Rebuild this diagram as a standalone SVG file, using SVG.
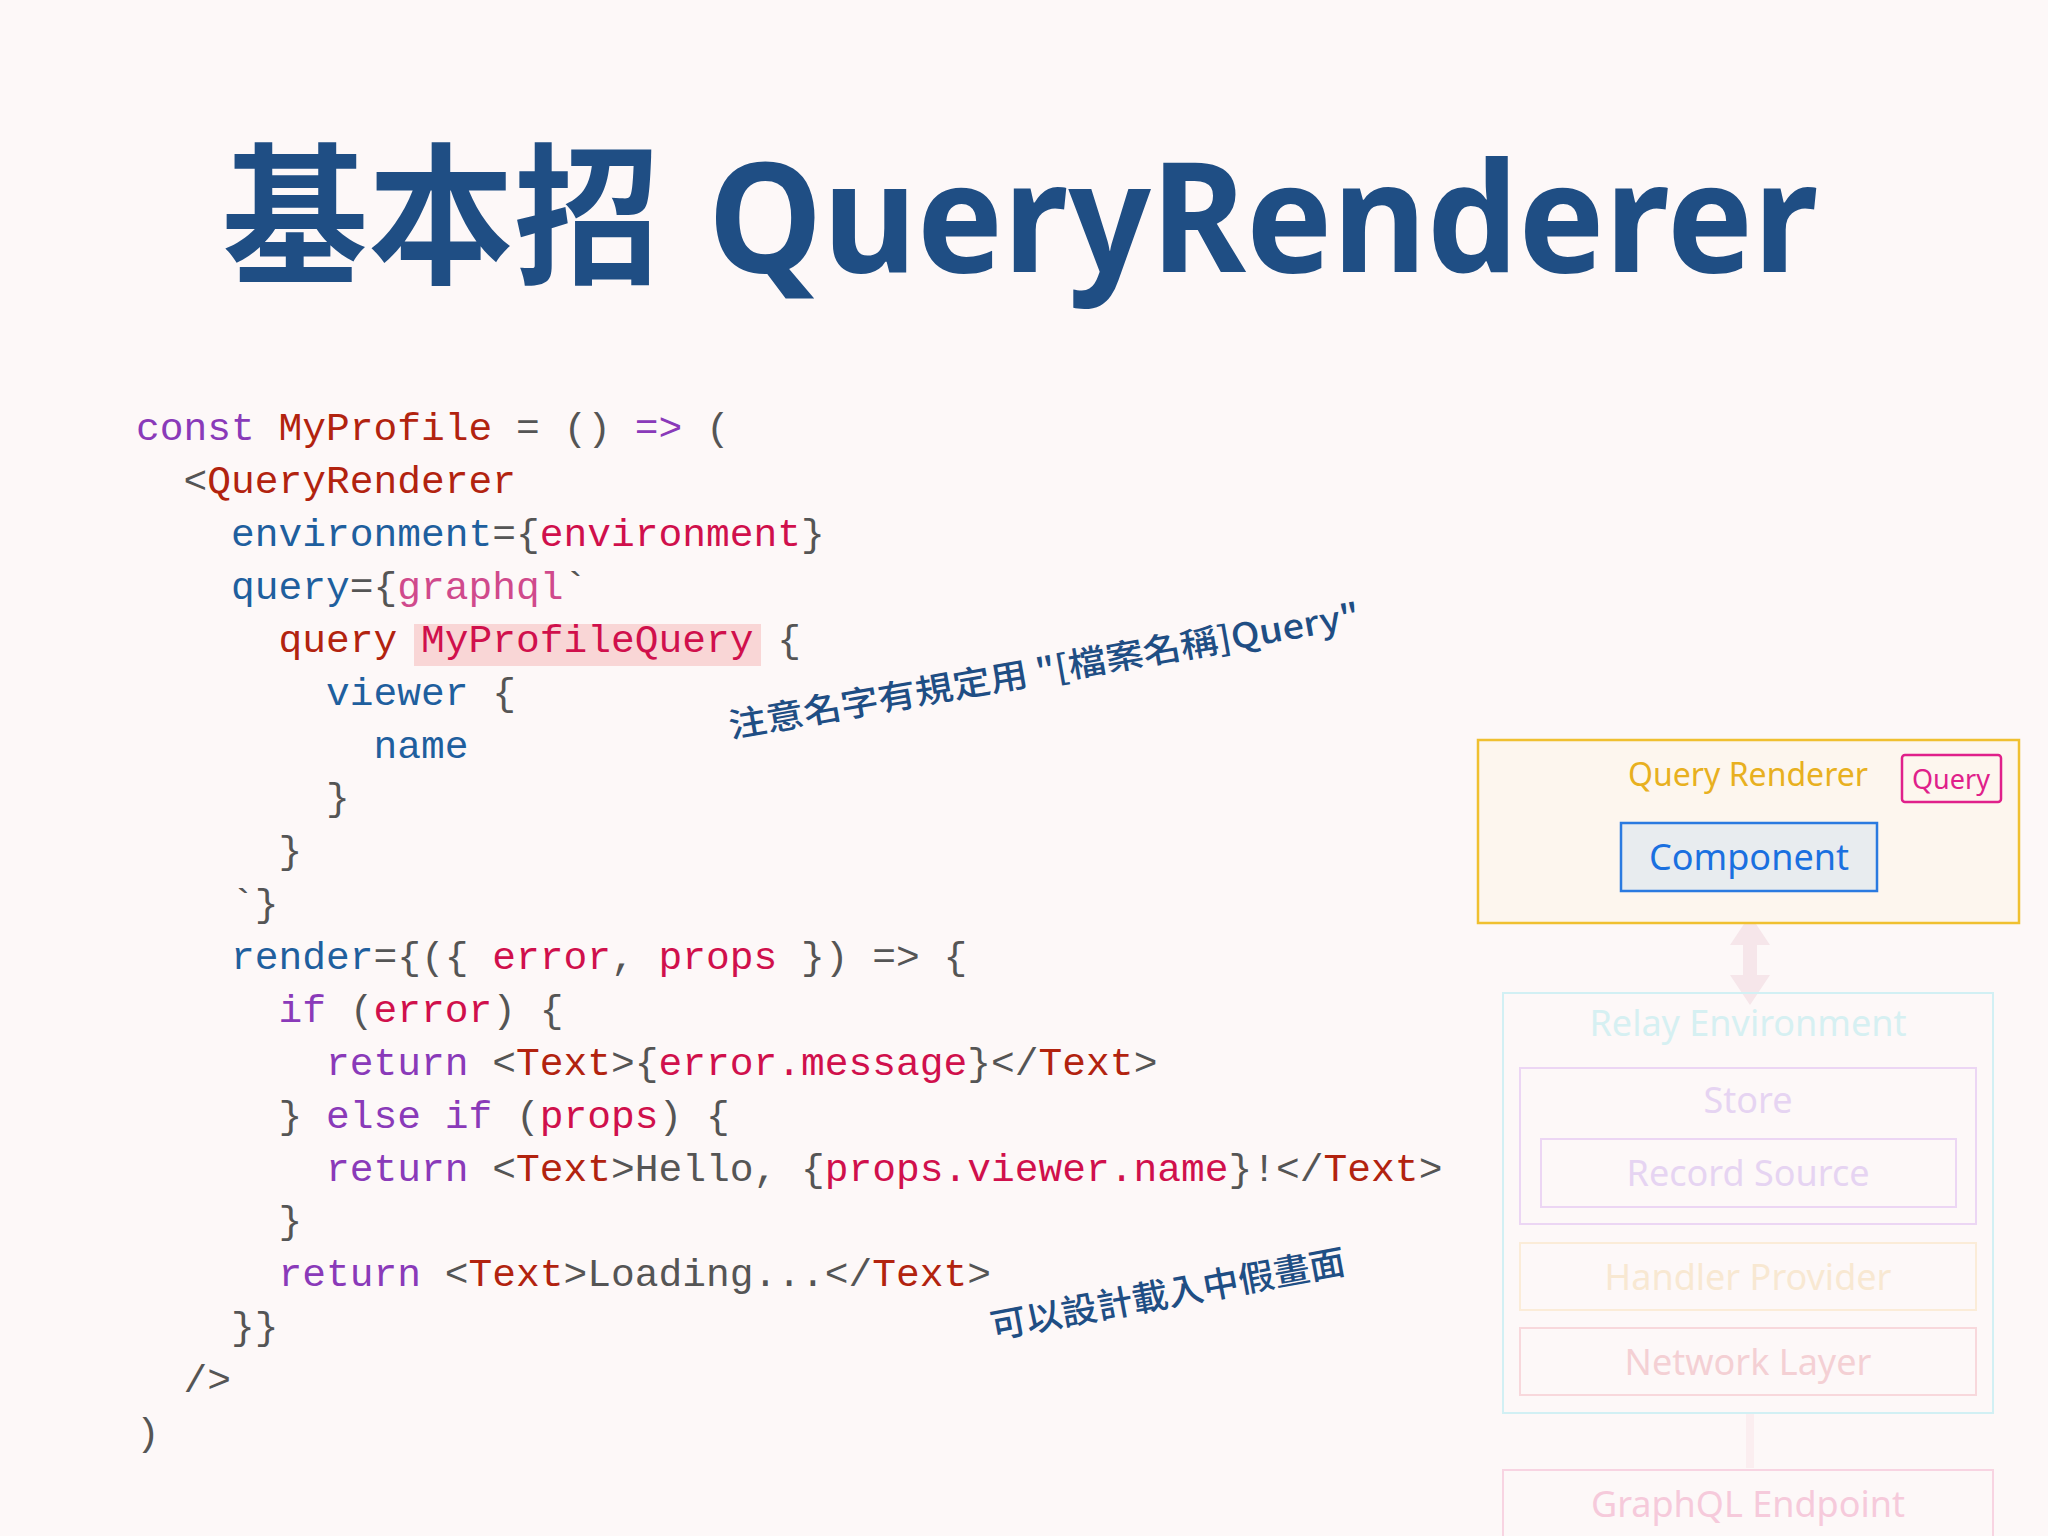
<svg xmlns="http://www.w3.org/2000/svg" width="2048" height="1536" viewBox="0 0 2048 1536">
<style>
.code{font-family:"Liberation Mono","DejaVu Sans Mono",monospace;font-size:39.6px;fill:#555}
.k{fill:#8a3ab9}.n{fill:#b2230f}.v{fill:#d0104c}.a{fill:#1f5f9e}.g{fill:#d04a8c}
.ann{font-family:"Noto Sans CJK TC","Noto Sans",sans-serif;font-weight:500;fill:#1f4e84}
.p{font-family:"Noto Sans","Lato",sans-serif;text-anchor:middle}
</style>
<rect width="2048" height="1536" fill="#fdf8f8"/>
<g id="title">
<text y="272" font-size="152" font-weight="700" fill="#1f4e84" font-family="'Noto Sans','Noto Sans CJK TC',sans-serif"><tspan x="222" textLength="438" lengthAdjust="spacingAndGlyphs" font-family="'Noto Sans CJK TC',sans-serif">基本招</tspan><tspan x="708" textLength="1110" lengthAdjust="spacingAndGlyphs">QueryRenderer</tspan></text>
</g>
<g id="code">
<rect x="414" y="624" width="347" height="42" fill="#f9d6d6"/>
<text class="code" xml:space="preserve">
<tspan x="136" y="440"><tspan class="k">const</tspan> <tspan class="n">MyProfile</tspan> = () <tspan class="k">=&gt;</tspan> (</tspan>
<tspan x="136" y="493">  &lt;<tspan class="n">QueryRenderer</tspan></tspan>
<tspan x="136" y="546">    <tspan class="a">environment</tspan>={<tspan class="v">environment</tspan>}</tspan>
<tspan x="136" y="599">    <tspan class="a">query</tspan>={<tspan class="g">graphql</tspan>`</tspan>
<tspan x="136" y="652">      <tspan class="n">query</tspan> <tspan class="v">MyProfileQuery</tspan> {</tspan>
<tspan x="136" y="705">        <tspan class="a">viewer</tspan> {</tspan>
<tspan x="136" y="758">          <tspan class="a">name</tspan></tspan>
<tspan x="136" y="810">        }</tspan>
<tspan x="136" y="863">      }</tspan>
<tspan x="136" y="916">    `}</tspan>
<tspan x="136" y="969">    <tspan class="a">render</tspan>={({ <tspan class="v">error</tspan>, <tspan class="v">props</tspan> }) =&gt; {</tspan>
<tspan x="136" y="1022">      <tspan class="k">if</tspan> (<tspan class="v">error</tspan>) {</tspan>
<tspan x="136" y="1075">        <tspan class="k">return</tspan> &lt;<tspan class="n">Text</tspan>&gt;{<tspan class="v">error.message</tspan>}&lt;/<tspan class="n">Text</tspan>&gt;</tspan>
<tspan x="136" y="1128">      } <tspan class="k">else if</tspan> (<tspan class="v">props</tspan>) {</tspan>
<tspan x="136" y="1181">        <tspan class="k">return</tspan> &lt;<tspan class="n">Text</tspan>&gt;Hello, {<tspan class="v">props.viewer.name</tspan>}!&lt;/<tspan class="n">Text</tspan>&gt;</tspan>
<tspan x="136" y="1233">      }</tspan>
<tspan x="136" y="1286">      <tspan class="k">return</tspan> &lt;<tspan class="n">Text</tspan>&gt;Loading...&lt;/<tspan class="n">Text</tspan>&gt;</tspan>
<tspan x="136" y="1339">    }}</tspan>
<tspan x="136" y="1392">  /&gt;</tspan>
<tspan x="136" y="1445">)</tspan>
</text>
</g>
<g id="note1"><text class="ann" font-size="34" transform="translate(731,738) rotate(-10)" textLength="640" lengthAdjust="spacingAndGlyphs" xml:space="preserve">注意名字有規定用 "[檔案名稱]Query"</text></g>
<g id="note2"><text class="ann" font-size="35" transform="translate(993,1339) rotate(-10.5)" textLength="360" lengthAdjust="spacingAndGlyphs">可以設計載入中假畫面</text></g>
<g id="connectors">
<line x1="1750" y1="925" x2="1750" y2="990" stroke="#f6e6ea" stroke-width="14"/>
<path d="M1730 945 L1750 915 L1770 945 Z M1730 975 L1750 1005 L1770 975 Z" fill="#f6e6ea"/>
<line x1="1750" y1="1414" x2="1750" y2="1468" stroke="#fbeef0" stroke-width="8"/>
</g>
<g id="query-renderer">
<rect x="1478" y="740" width="541" height="183" fill="#fdf6ee" stroke="#f0c030" stroke-width="2.5"/>
<text class="p" x="1748" y="786" font-size="32" fill="#e8b020">Query Renderer</text>
</g>
<g id="query"><rect x="1902" y="755" width="99" height="47" rx="3" fill="none" stroke="#e0208a" stroke-width="2.5"/><text class="p" x="1951" y="789" font-size="27" fill="#e0208a">Query</text></g>
<g id="component"><rect x="1621" y="823" width="256" height="68" fill="#e8ecef" stroke="#2a7ae0" stroke-width="2.5"/><text class="p" x="1749" y="870" font-size="36" fill="#1a70e0">Component</text></g>
<g id="relay-env"><rect x="1503" y="993" width="490" height="420" fill="none" stroke="#d2f0f4" stroke-width="2"/><text class="p" x="1748" y="1036" font-size="36" fill="#d6f0f2">Relay Environment</text></g>
<g id="store"><rect x="1520" y="1068" width="456" height="156" fill="none" stroke="#ecd6f4" stroke-width="2"/><text class="p" x="1748" y="1113" font-size="36" fill="#e6d4f2">Store</text></g>
<g id="record-source"><rect x="1541" y="1139" width="415" height="68" fill="none" stroke="#ecd6f4" stroke-width="2"/><text class="p" x="1748" y="1186" font-size="36" fill="#e6d4f2">Record Source</text></g>
<g id="handler-provider"><rect x="1520" y="1243" width="456" height="67" fill="none" stroke="#fbecd8" stroke-width="2"/><text class="p" x="1748" y="1290" font-size="36" fill="#f8e8d2">Handler Provider</text></g>
<g id="network-layer"><rect x="1520" y="1328" width="456" height="67" fill="none" stroke="#f8d8dc" stroke-width="2"/><text class="p" x="1748" y="1375" font-size="36" fill="#f4d0d4">Network Layer</text></g>
<g id="graphql-endpoint"><rect x="1503" y="1470" width="490" height="90" fill="none" stroke="#f8d4e2" stroke-width="2"/><text class="p" x="1748" y="1517" font-size="36" fill="#f6cadb">GraphQL Endpoint</text></g>
</svg>
